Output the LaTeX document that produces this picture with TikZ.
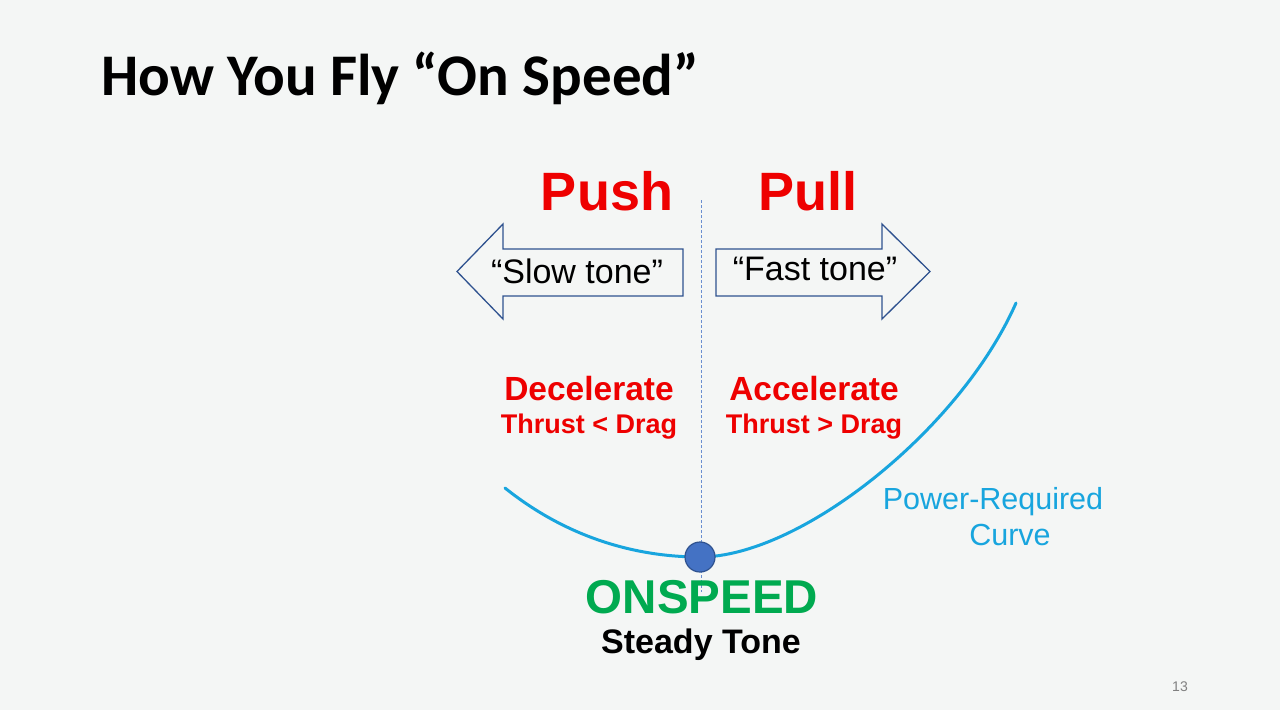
\documentclass[tikz,border=0pt]{standalone}
\usepackage{fontspec}
\setmainfont{Liberation Sans}
\newfontfamily\titlefont{Carlito}
\usetikzlibrary{arrows.meta}
\definecolor{slidebg}{RGB}{244,246,245}
\definecolor{pushred}{RGB}{238,0,0}
\definecolor{curveblue}{RGB}{24,165,222}
\definecolor{arrowline}{RGB}{47,82,143}
\definecolor{dotfill}{RGB}{68,114,196}
\definecolor{ongreen}{RGB}{0,170,80}

\begin{document}
\begin{tikzpicture}[x=1pt,y=-1pt,
    dirword/.style={text=pushred,font=\bfseries\fontsize{54}{60}\selectfont},
    actword/.style={text=pushred,font=\bfseries\fontsize{33.5}{36}\selectfont},
    forceword/.style={text=pushred,font=\bfseries\fontsize{27}{30}\selectfont},
    toneword/.style={font=\fontsize{34}{38}\selectfont},
    arrowbox/.style={draw=arrowline,line width=1.3pt,fill=slidebg,line join=miter}]
    \fill[slidebg] (0,0) rectangle (1280,710);
    \node[anchor=base west,inner sep=0pt,font=\titlefont\bfseries\fontsize{59}{66}\selectfont] (title) at (101,95) {How You Fly “On Speed”};
    % center line
    \coordinate (top) at (701,200);
    \coordinate (bot) at (701,592);
    \draw[dotfill!80,line width=0.7pt,dash pattern=on 3pt off 2pt] (top) -- (bot);
    \node[dirword] (push) at (607,191) {Push};
    \node[dirword] (pull) at (808,191) {Pull};
    % tone arrows
    \draw[arrowbox] (683,249) -- (503,249) -- (503,224) -- (457,271.5) -- (503,319) -- (503,296) -- (683,296) -- cycle;
    \draw[arrowbox] (716,249) -- (882,249) -- (882,224) -- (930,271.5) -- (882,319) -- (882,296) -- (716,296) -- cycle;
    \node[toneword] (slow) at (577,271) {“Slow tone”};
    \node[toneword] (fast) at (815,269) {“Fast tone”};
    \foreach \n/\x/\a/\f in {dec/589/Decelerate/Thrust < Drag, acc/814/Accelerate/Thrust > Drag}{
      \node[actword] (\n) at (\x,389) {\a};
      \node[forceword] (\n f) at (\x,427) {\f};
    }
    % power curve
    \coordinate (cl) at (505,488);
    \coordinate (cm) at (700,557);
    \coordinate (cr) at (1016,303);
    \draw[curveblue,line width=3pt,line cap=round] (cl) .. controls (570,540) and (640,557) .. (cm)
      .. controls (800,557) and (960,430) .. (cr);
    \node[text=curveblue,align=center,font=\fontsize{30.5}{36}\selectfont] (prc) at (993,517) {Power-Required\\\hspace*{34pt}Curve};
    \node[circle,fill=dotfill,draw=arrowline,line width=1.2pt,minimum size=30pt,inner sep=0pt] (dot) at (cm) {};
    \node[text=ongreen,font=\bfseries\fontsize{47.5}{50}\selectfont] (onspeed) at (702,597) {ONSPEED};
    \node[font=\bfseries\fontsize{34}{36}\selectfont] (steady) at (701,645) {Steady Tone};
    \node[text=black!50,font=\fontsize{14}{16}\selectfont] (page) at (1180,687) {13};
\end{tikzpicture}
\end{document}
